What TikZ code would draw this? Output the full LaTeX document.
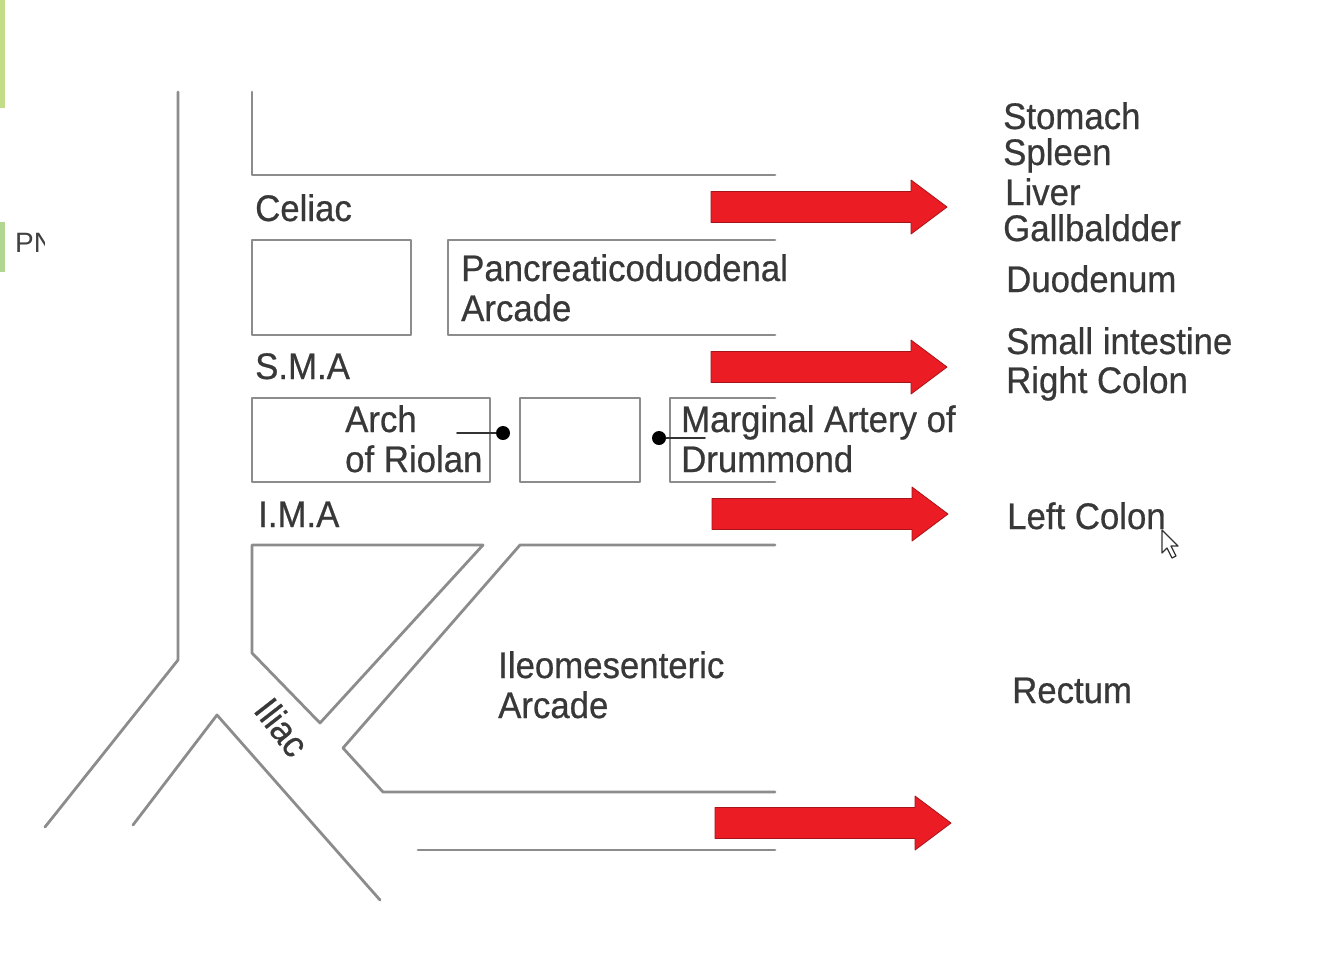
\documentclass[tikz,border=0pt]{standalone}
\usepackage{fontspec}
\setmainfont{Liberation Sans}[FakeStretch=0.94, FakeBold=0.6]
\newfontfamily\slidefont{Liberation Sans}
\definecolor{vesselgray}{RGB}{140,140,140}
\definecolor{arrowred}{RGB}{236,28,36}
\definecolor{slidegreen}{RGB}{195,220,135}
\definecolor{slidegreenb}{RGB}{176,214,143}
\tikzset{
  lbl/.style={font=\fontsize{37}{40}\selectfont, text=black!78, inner sep=0pt, anchor=base west},
  lbltwo/.style={font=\fontsize{37}{40}\selectfont, text=black!78, inner sep=0pt, anchor=north west, align=left},
  vdot/.style={circle, fill=black, inner sep=0pt, minimum size=14pt},
  organarrow/.pic={
    \fill[arrowred, draw=arrowred!70!black, line width=0.8pt]
      (0,-15.5) -- (200,-15.5) -- (200,-27) -- (236,0) -- (200,27) -- (200,15.5) -- (0,15.5) -- cycle;
  }
}
\begin{document}
\begin{tikzpicture}
% picture drawn in pixel units of the slide
\def\pxsz{1pt}
\providecommand{\vesselWidth}{2.8pt}
\begin{scope}[x=\pxsz, y=-\pxsz, line cap=round, line join=round]
  \useasboundingbox (0,0) rectangle (1334,962);
  % Slide edge
  \fill[slidegreen] (0,0) rectangle (5,108);
  \fill[slidegreenb] (0,222) rectangle (5,272);
  \begin{scope}
    \clip (0,220) rectangle (44,270);
    \node[font=\slidefont\fontsize{28}{30}\selectfont, text=black!75, inner sep=0pt, anchor=west] (slidetxt) at (15,243) {PN};
  \end{scope}
  % Vessel outlines
  \begin{scope}[draw=vesselgray, line width=\vesselWidth]
    % aorta and iliac
    \draw (178,92) -- (178,660) -- (45,827);
    \draw (133,825) -- (217,715) -- (380,900);
    % celiac
    \draw (252,92) -- (252,175) -- (775,175);
    % between celiac and S.M.A
    \draw (252,240) rectangle (411,335);
    \draw (775,240) -- (448,240) -- (448,335) -- (775,335);
    % between S.M.A and I.M.A
    \draw (252,398) rectangle (490,482);
    \draw (520,398) rectangle (640,482);
    \draw (775,398) -- (670,398) -- (670,482) -- (775,482);
    % below I.M.A
    \draw (252,545) -- (483,545) -- (320,723) -- (252,653) -- cycle;
    \draw (775,545) -- (520,545) -- (343,748) -- (383,792) -- (775,792);
    \draw (418,850) -- (775,850);
  \end{scope}
  % Vessel names
  \node[lbl] (celiac) at (255,221) {Celiac};
  \node[lbl] (sma) at (255,379) {S.M.A};
  \node[lbl] (ima) at (258,527) {I.M.A};
  \node[lbltwo] (pdarcade) at (461,254) {Pancreaticoduodenal\\Arcade};
  \node[lbltwo] (riolan) at (345,405) {Arch\\of Riolan};
  \node[lbltwo] (drummond) at (681,405) {Marginal Artery of\\Drummond};
  \node[lbltwo] (ilarcade) at (498,651) {Ileomesenteric\\Arcade};
  \node[lbl, anchor=center, rotate=-52] (iliac) at (282,727) {Iliac};
  % Dots on the arches
  \coordinate (riolanend) at (457,433);
  \node[vdot] (dotriolan) at (503,433) {};
  \draw[line width=1.6pt, black!80] (riolanend) -- (dotriolan);
  \node[vdot] (dotdrummond) at (659,438) {};
  \coordinate (drummondend) at (705,438);
  \draw[line width=1.6pt, black!80] (dotdrummond) -- (drummondend);
  % Red arrows
  \pic at (711,207) {organarrow};
  \pic at (711,367) {organarrow};
  \pic at (712,514) {organarrow};
  \pic at (715,823) {organarrow};
  % Organs
  \node[lbl] (stomach) at (1003,129) {Stomach};
  \node[lbl] (spleen) at (1003,165) {Spleen};
  \node[lbl] (liver) at (1005,205) {Liver};
  \node[lbl] (gallb) at (1003,241) {Gallbaldder};
  \node[lbl] (duod) at (1006,292) {Duodenum};
  \node[lbl] (smallint) at (1006,354) {Small intestine};
  \node[lbl] (rcolon) at (1006,393) {Right Colon};
  \node[lbl] (lcolon) at (1007,529) {Left Colon};
  \node[lbl] (rectum) at (1012,703) {Rectum};
  % Mouse pointer
  \draw[fill=white, draw=black!80, line width=1.2pt]
    (1162,530) -- (1162,553) -- (1167,548) -- (1172,558) -- (1176,556) -- (1171,546) -- (1178,546) -- cycle;
\end{scope}
\end{tikzpicture}
\end{document}
